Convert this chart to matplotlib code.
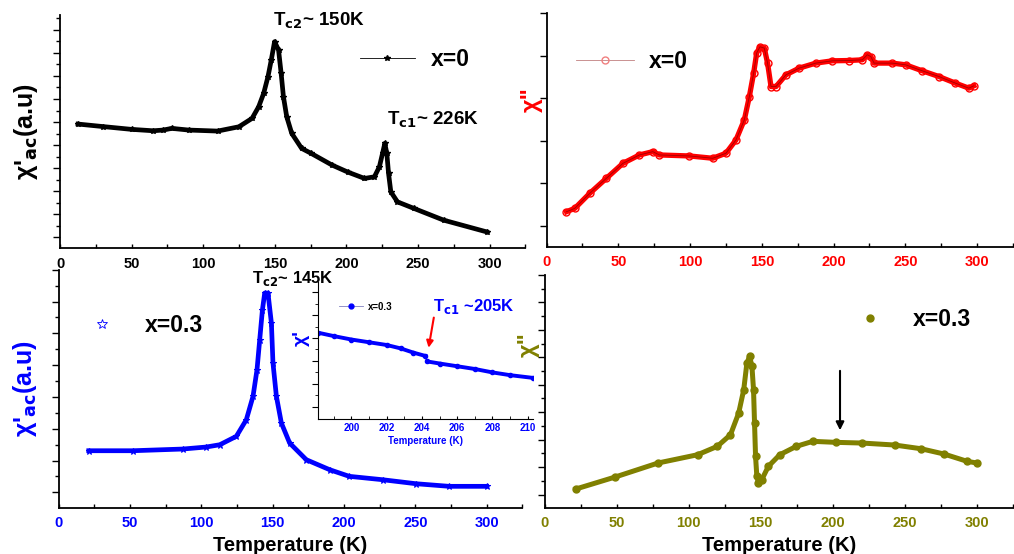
import numpy as np
import matplotlib.pyplot as plt
from matplotlib.lines import Line2D

plt.rcParams['font.family'] = ['Liberation Sans', 'DejaVu Sans']
plt.rcParams['font.weight'] = 'bold'
plt.rcParams['axes.labelweight'] = 'bold'
plt.rcParams['mathtext.default'] = 'bf'

# x=0, real part chi' (a.u.)
t_a = [12.6, 30, 50, 65, 72, 78, 90, 110, 124.9, 134.1, 138.7, 142.2, 145.2, 147.5, 149.8,
       152.6, 154.4, 156, 158.3, 161.8, 168.7, 175, 190, 201, 212.6, 219.5, 223, 225.2,
       226.8, 228.2, 229.4, 231, 235.6, 247.2, 267.9, 297.9]
chi1_a = [124, 121.5, 118.7, 117.3, 118, 119.7, 118, 117, 121.3, 129.7, 141.3, 154.7, 171.3,
          188, 206.3, 198, 174.7, 151.3, 131.3, 114.7, 99.7, 95, 83, 76, 69.7, 71.3, 81.3,
          94.7, 104.7, 94.7, 74.7, 56.3, 46.3, 39.7, 28, 16.3]

# x=0, imaginary part chi''
t_b = [13.9, 19.7, 30.1, 41.7, 53.3, 64.7, 74, 78.6, 99.5, 115.8, 125, 132, 137.8, 141.3,
       144.3, 146.4, 148.7, 151.7, 154, 156.4, 159.9, 166.8, 176, 187.6, 199.2, 210.8, 220,
       223.5, 225.9, 228.2, 240.9, 250.2, 261.8, 273.4, 284.9, 294.2, 297.7]
chi2_b = [35.3, 38.7, 53.7, 68.7, 83.7, 92, 95.3, 92, 91, 88.7, 93.7, 107, 127, 150.3, 173.7,
          193.7, 200, 198.7, 183.7, 160.3, 160.3, 172, 178.7, 183.7, 186, 186.3, 187, 192,
          190.3, 183.7, 183.7, 182, 176, 170.3, 163.7, 158.7, 161]

# x=0.3, chi'
t_c = [21, 51.9, 86.9, 103.3, 112.9, 124.5, 131.5, 136.2, 139, 140.9, 142.8, 144.4, 146.7,
       149.1, 150.2, 152.6, 156.1, 161.9, 173.6, 190, 203.7, 227.1, 250.5, 273.8, 300]
chi1_c = [57.3, 57.3, 59, 61, 63.3, 71.7, 88.3, 111.7, 138.3, 168.3, 198.3, 215, 215, 185,
          145, 111.7, 85, 65, 48.3, 38.3, 31.7, 28.3, 24.3, 21.7, 21.7]

# x=0.3, chi''
t_d = [21.7, 49, 78.7, 106.2, 119.9, 129, 134.7, 138.2, 140.4, 142.3, 143.9, 145, 145.7,
       146.4, 147.3, 148.4, 150.7, 155.3, 163.2, 174.7, 186.1, 201.9, 220.2, 243, 261.2,
       277.2, 293.2, 300]
chi2_d = [19, 31, 45, 53.3, 61.7, 73.3, 95, 118.3, 145, 151.7, 141.7, 118.3, 85, 51.7, 31.7,
          25, 28.3, 41.7, 53.3, 61.7, 66.7, 65.7, 65, 63, 59.3, 54, 46.7, 45]

# inset: x=0.3 chi' near Tc1
t_in = [198.1, 199, 200, 201, 202, 202.8, 203.5, 204.2, 204.3, 205, 206, 207, 208, 209, 210.3]
chi_in = [6.3, 6.05, 5.8, 5.6, 5.4, 5.15, 4.85, 4.6, 4.2, 4.05, 3.85, 3.65, 3.4, 3.2, 3.0]

olive = '#808000'
fig = plt.figure(figsize=(10.14, 5.54), dpi=100)


def style(ax, col, xmax, ytk, major_every=2, ylen=5):
    ax.spines['top'].set_visible(False)
    ax.spines['right'].set_visible(False)
    for s in ['left', 'bottom']:
        ax.spines[s].set_linewidth(1.3)
    ax.set_xlim(0, xmax)
    ax.set_xticks(np.arange(0, 301, 50))
    ax.set_xticks(np.arange(25, 326, 50), minor=True)
    ax.tick_params(axis='x', which='both', direction='in', length=3, width=1,
                   labelsize=10.5, labelcolor=col, pad=6)
    ax.set_yticks(ytk[::major_every])
    ax.set_yticks(ytk, minor=True)
    ax.tick_params(axis='y', which='major', length=ylen, width=1, labelleft=False)
    ax.tick_params(axis='y', which='minor', length=ylen * 0.6, width=1)
    for lb in ax.get_xticklabels():
        lb.set_fontweight('bold')


leg_font = dict(weight='bold', size=16.5)

# top left
ax1 = fig.add_axes([0.0592, 0.552, 0.459, 0.421])
ax1.plot(t_a, chi1_a, color='black', lw=3.4, marker='*', ms=4)
ax1.set_ylim(0, 233)
style(ax1, 'black', 322, 10.7 + 11.53 * np.arange(20))
ax1.set_ylabel("χ'$_{ac}$(a.u)", fontsize=18, labelpad=8)
ax1.text(149, 227, 'T$_{c2}$~ 150K', fontsize=13.5, ha='left', va='center')
ax1.text(228, 128, 'T$_{c1}$~ 226K', fontsize=13.5, ha='left', va='center')
h = Line2D([], [], color='black', lw=0.6, marker='*', ms=4)
ax1.legend([h], ['x=0'], loc='center left', bbox_to_anchor=(0.6, 0.807), frameon=False,
           handlelength=2.4, handletextpad=0.7, prop=leg_font)

# top right
ax2 = fig.add_axes([0.539, 0.554, 0.46, 0.423])
ax2.plot(t_b, chi2_b, color='red', lw=3.8, marker='o', ms=5, mfc='none', mew=1)
ax2.plot(t_b, chi2_b, color='#a00000', lw=0.6)
ax2.set_ylim(0, 234)
style(ax2, 'red', 325, 21.3 + 42.5 * np.arange(6), major_every=1)
ax2.set_ylabel('χ"', fontsize=17, color='red')
ax2.yaxis.set_label_coords(-0.009, 0.63)
h = Line2D([], [], color='#c08080', lw=0.6, marker='o', ms=5, mfc='none', mec='#f08080')
ax2.legend([h], ['x=0'], loc='center left', bbox_to_anchor=(0.02, 0.79), frameon=False,
           handlelength=2.5, handletextpad=0.65, prop=leg_font)

# bottom left
ax3 = fig.add_axes([0.058, 0.083, 0.457, 0.43])
ax3.plot(t_c, chi1_c, color='blue', lw=3.4, marker='*', ms=5, mfc='none', mew=0.8)
ax3.set_ylim(0, 238.3)
style(ax3, 'blue', 325, 15.7 + 15.9 * np.arange(15))
ax3.set_ylabel("χ'$_{ac}$(a.u)", fontsize=18, color='blue', labelpad=8)
ax3.set_xlabel('Temperature (K)', fontsize=14.5, labelpad=4)
ax3.text(135.3, 230, 'T$_{c2}$~ 145K', fontsize=12, ha='left', va='center')
h = Line2D([], [], color='blue', lw=0, marker='*', ms=7, mfc='none', mew=0.6)
ax3.legend([h], ['x=0.3'], loc='center left', bbox_to_anchor=(0.011, 0.765), frameon=False,
           handlelength=1.5, handletextpad=1.15, prop=leg_font)

# bottom right
ax4 = fig.add_axes([0.537, 0.083, 0.462, 0.421])
ax4.plot(t_d, chi2_d, color=olive, lw=3.6, marker='o', ms=5)
ax4.set_ylim(0, 233)
style(ax4, olive, 320, 13.3 + 13.75 * np.arange(17))
ax4.set_ylabel('χ"', fontsize=17, color=olive)
ax4.yaxis.set_label_coords(-0.01, 0.7)
ax4.set_xlabel('Temperature (K)', fontsize=14.5, labelpad=4)
ax4.annotate('', xy=(205, 75), xytext=(205, 140),
             arrowprops=dict(arrowstyle='-|>', color='black', lw=1.5, mutation_scale=12))
h = Line2D([], [], color=olive, lw=0, marker='o', ms=5)
ax4.legend([h], ['x=0.3'], loc='center left', bbox_to_anchor=(0.613, 0.81), frameon=False,
           handlelength=1.5, handletextpad=1.15, prop=leg_font)

# inset
ax5 = fig.add_axes([0.3136, 0.2437, 0.212, 0.2473])
ax5.set_facecolor('none')
ax5.plot(t_in[:8], chi_in[:8], color='blue', lw=2.8, marker='o', ms=3)
ax5.plot(t_in[8:], chi_in[8:], color='blue', lw=2.8, marker='o', ms=3)
ax5.set_xlim(198.1, 210.3)
ax5.set_ylim(0, 10)
for s in ['top', 'right']:
    ax5.spines[s].set_visible(False)
ax5.set_xticks(np.arange(200, 211, 2))
ax5.set_xticks(np.arange(199, 211, 1), minor=True)
ax5.tick_params(axis='x', which='both', direction='in', length=2, labelsize=7,
                labelcolor='blue', pad=3)
ax5.set_yticks(0.9 + 1.67 * np.arange(6))
ax5.set_yticks(0.9 + 0.835 * np.arange(11), minor=True)
ax5.tick_params(axis='y', which='major', length=4, labelleft=False)
ax5.tick_params(axis='y', which='minor', length=2)
ax5.set_xlabel('Temperature (K)', fontsize=7, color='blue', labelpad=2)
ax5.set_ylabel("χ'", fontsize=14, color='blue')
ax5.yaxis.set_label_coords(-0.037, 0.59)
ax5.text(204.6, 8.2, 'T$_{c1}$ ~205K', fontsize=12, color='blue', ha='left', va='center')
ax5.annotate('', xy=(204.35, 5.0), xytext=(204.7, 7.6),
             arrowprops=dict(arrowstyle='-|>', color='red', lw=1.5, mutation_scale=10))
h = Line2D([], [], color='#8080c0', lw=0.6, marker='o', ms=3.5, mfc='blue', mec='blue')
ax5.legend([h], ['x=0.3'], loc='center left', bbox_to_anchor=(0.056, 0.82), frameon=False,
           handlelength=2.5, handletextpad=0.5, prop=dict(weight='bold', size=7))

fig.savefig('out.png', dpi=100)
